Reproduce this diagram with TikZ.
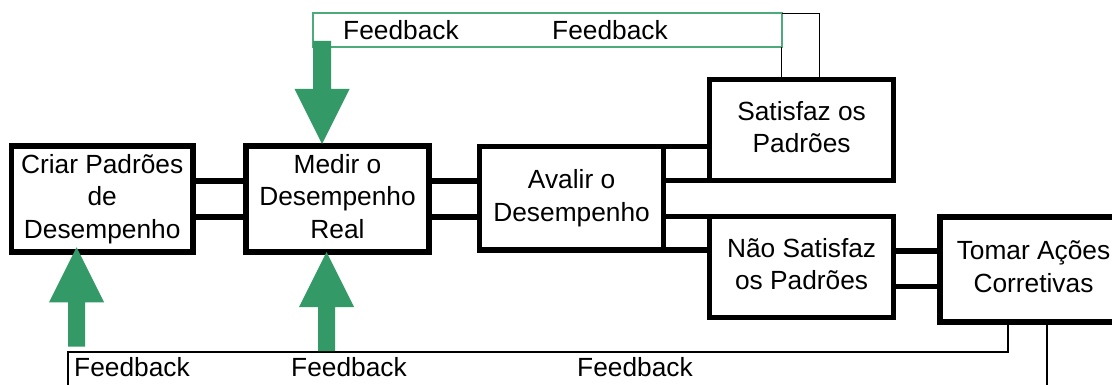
\documentclass[tikz,border=0pt]{standalone}
\usepackage{fontspec}
\setmainfont{Liberation Sans}
\definecolor{fbgreen}{HTML}{339966}
\definecolor{fbline}{HTML}{4DAA7A}
\begin{document}
\begin{tikzpicture}[x=1pt,y=-1pt,
  txt/.style={font=\fontsize{26.3}{32.5}\selectfont},
  box/.style={txt, draw, line width=5.5pt, rectangle, inner sep=0pt, outer sep=0pt, align=center, fill=white},
  conn/.style={line width=5.5pt},
  fb/.style={line width=1.5pt},
  lbl/.style={txt, inner sep=0pt, anchor=base west},
  fatup/.pic={\fill[fbgreen] (0,0) -- (27.5,55) -- (8.5,55) -- (8.5,99.2) -- (-8.5,99.2) -- (-8.5,55) -- (-27.5,55) -- cycle;},
  fatdown/.pic={\fill[fbgreen] (0,0) -- (27.5,-55) -- (9,-55) -- (9,-103) -- (-9,-103) -- (-9,-55) -- (-27.5,-55) -- cycle;},
]
\useasboundingbox (0,0) rectangle (1112,385);
\clip (0,0) rectangle (1112,385);
\fill[white] (0,0) rectangle (1112,385);

% boxes
\node[box, minimum width=181.7pt, minimum height=106pt] (A) at (102.2,199) {\strut Criar Padrões\\de\\Desempenho\strut};
\node[box, minimum width=183pt, minimum height=106pt] (B) at (337.5,199) {\strut Medir o\\Desempenho\\Real\strut};
\node[box, minimum width=184.2pt, minimum height=103.3pt] (C) at (571.6,198.35) {\strut Avalir o\\Desempenho\strut};
\node[box, minimum width=184.2pt, minimum height=100.8pt] (S) at (801.6,129.9) {\strut Satisfaz os\\Padrões\strut};
\node[box, minimum width=184.2pt, minimum height=100.8pt] (N) at (801.6,267.1) {\strut Não Satisfaz\\os Padrões\strut};
\node[box, minimum width=187pt, minimum height=105pt] (T) at (1033.5,269.5) {\strut Tomar Ações\\Corretivas\strut};

% double connectors
\draw[conn] ([yshift=18pt]A.east) -- ([yshift=18pt]A.east -| B.west);
\draw[conn] ([yshift=-18pt]A.east) -- ([yshift=-18pt]A.east -| B.west);
\draw[conn] ([yshift=18pt]B.east) -- ([yshift=18pt]B.east -| C.west);
\draw[conn] ([yshift=-18pt]B.east) -- ([yshift=-18pt]B.east -| C.west);
\draw[conn] (C.north east) -- (C.north east -| S.west);
\draw[conn] (S.south west) -- (S.south west -| C.east);
\draw[conn] (N.north west) -- (N.north west -| C.east);
\draw[conn] (C.south east) -- (C.south east -| N.west);
\draw[conn] ([yshift=16pt]N.east) -- ([yshift=16pt]N.east -| T.west);
\draw[conn] ([yshift=-19.4pt]N.east) -- ([yshift=-19.4pt]N.east -| T.west);

% top feedback loop
\node[draw=fbline, line width=2pt, inner sep=0pt, outer sep=0pt, minimum width=468.7pt, minimum height=34pt] (topfb) at (547.35,30.3) {};
\coordinate (s1) at ([xshift=72.2pt]S.north west);
\coordinate (s2) at ([xshift=109.8pt]S.north west);
\draw[fb] (s1) -- (s1 |- topfb.south);
\draw[fb] (s2) -- (s2 |- topfb.north) -- (topfb.north east);
\node[lbl] (fbt1) at (343,39.3) {Feedback};
\node[lbl] (fbt2) at (552,39.3) {Feedback};
\coordinate (tipB) at ([xshift=76pt,yshift=2pt]B.north west);
\pic at (tipB) {fatdown};

% bottom feedback loop
\coordinate (t1) at ([xshift=68pt]T.south west);
\coordinate (t2) at ([xshift=107pt]T.south west);
\coordinate (bl) at (68,352);
\draw[fb] (t1) |- (bl) -- ++(0,60);
\draw[fb] (t2) -- ++(0,90);
\node[lbl] (fbb1) at (74,376.7) {Feedback};
\node[lbl] (fbb2) at (291,376.7) {Feedback};
\node[lbl] (fbb3) at (577,376.7) {Feedback};
\coordinate (tipA) at ([xshift=65.2pt,yshift=4.7pt]A.south west);
\coordinate (tipB2) at ([xshift=80.5pt]B.south west);
\pic at (tipA) {fatup};
\pic at (tipB2) {fatup};
\end{tikzpicture}
\end{document}
